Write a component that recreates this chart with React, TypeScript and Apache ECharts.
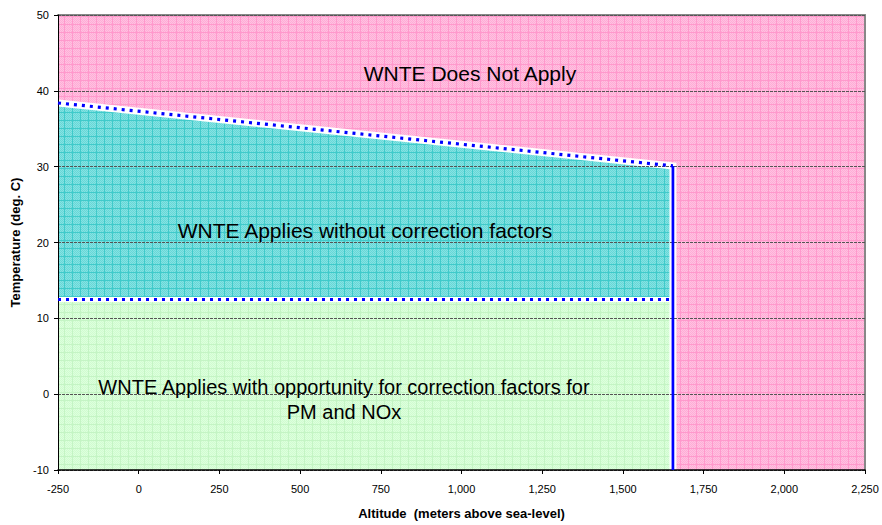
import React, { useEffect, useRef } from "react";
import * as echarts from "echarts";

// Axis ranges
const X_MIN = -250;
const X_MAX = 2250;
const X_STEP = 250;
const Y_MIN = -10;
const Y_MAX = 50;
const Y_STEP = 10;

// Region boundaries (altitude m, temperature deg C)
const boundaryAltitudes = [-250, 1655];
const upperTemps = [38.4, 30.1];
const lowerTemps = [12.5, 12.5];
const altitudeLimit = 1655;

const regionLabels = [
  "WNTE Does Not Apply",
  "WNTE Applies without correction factors",
  "WNTE Applies with opportunity for correction factors for\nPM and NOx",
];

const FONT = '"Liberation Sans", Arial, sans-serif';

function makePattern(bg: string, dot: string, line: string, size = 8) {
  const c = document.createElement("canvas");
  c.width = size;
  c.height = size;
  const ctx = c.getContext("2d")!;
  ctx.fillStyle = bg;
  ctx.fillRect(0, 0, size, size);
  ctx.fillStyle = dot;
  for (let y = 1; y < size; y++)
    for (let x = 1; x < size; x++) if ((x + y) % 2 === 0) ctx.fillRect(x, y, 1, 1);
  ctx.fillStyle = line;
  ctx.fillRect(0, 0, size, 1);
  ctx.fillRect(0, 0, 1, size);
  return { image: c, repeat: "repeat" };
}

export default function App() {
  const ref = useRef<HTMLDivElement>(null);
  useEffect(() => {
    if (!ref.current) return;
    const chart = echarts.init(ref.current, null, { renderer: "svg" });
    const pink = makePattern("#FFC2E1", "#FFACD6", "#FF99CC");
    const cyan = makePattern("#86E2E2", "#66D8D8", "#40CACA");
    const green = makePattern("#DDFFDD", "#D0FCD0", "#C4F4C4");
    const [a0, a1] = boundaryAltitudes;

    const option: any = {
      animation: false,
      backgroundColor: "#fff",
      grid: { left: 58, right: 17, top: 15, bottom: 51, containLabel: false },
      xAxis: [
        {
          type: "value",
          min: X_MIN,
          max: X_MAX,
          interval: X_STEP,
          name: "Altitude  (meters above sea-level)",
          nameLocation: "middle",
          nameGap: 37,
          nameTextStyle: { fontFamily: FONT, fontSize: 13, fontWeight: "bold", color: "#000" },
          axisLine: { show: true, onZero: false, lineStyle: { color: "#000", width: 1.5 } },
          axisTick: { show: true, length: 4, lineStyle: { color: "#000" } },
          axisLabel: {
            fontFamily: FONT,
            fontSize: 11,
            color: "#000",
            margin: 13,
            formatter: (v: number) => v.toLocaleString("en-US"),
          },
          splitLine: { show: false },
          z: 1,
        },
        {
          type: "value",
          position: "top",
          min: X_MIN,
          max: X_MAX,
          axisLine: { show: true, onZero: false, lineStyle: { color: "#888", width: 2 } },
          axisTick: { show: false },
          axisLabel: { show: false },
          splitLine: { show: false },
        },
      ],
      yAxis: [
        {
          type: "value",
          min: Y_MIN,
          max: Y_MAX,
          interval: Y_STEP,
          name: "Temperature (deg. C)",
          nameLocation: "middle",
          nameGap: 36,
          nameTextStyle: { fontFamily: FONT, fontSize: 13, fontWeight: "bold", color: "#000" },
          axisLine: { show: true, onZero: false, lineStyle: { color: "#000", width: 1 } },
          axisTick: { show: true, length: 4, lineStyle: { color: "#000" } },
          axisLabel: { fontFamily: FONT, fontSize: 11, color: "#000", margin: 9 },
          splitLine: { show: true, lineStyle: { color: "#555", width: 1, type: [3, 1] } },
          z: 1,
        },
        {
          type: "value",
          position: "right",
          min: Y_MIN,
          max: Y_MAX,
          axisLine: { show: true, onZero: false, lineStyle: { color: "#888", width: 2 } },
          axisTick: { show: false },
          axisLabel: { show: false },
          splitLine: { show: false },
        },
      ],
      series: [
        {
          type: "custom",
          coordinateSystem: "cartesian2d",
          xAxisIndex: 0,
          yAxisIndex: 0,
          z: -1,
          silent: true,
          data: [[X_MIN, Y_MIN]],
          renderItem: (_params: any, api: any) => {
            const p = (x: number, y: number) => api.coord([x, y]);
            const tl = p(X_MIN, Y_MAX);
            const br = p(X_MAX, Y_MIN);
            return {
              type: "group",
              children: [
                {
                  type: "rect",
                  shape: { x: tl[0], y: tl[1], width: br[0] - tl[0], height: br[1] - tl[1] },
                  style: { fill: pink },
                },
                {
                  type: "polygon",
                  shape: {
                    points: [p(a0, lowerTemps[0]), p(a0, upperTemps[0]), p(a1, upperTemps[1]), p(a1, lowerTemps[1])],
                  },
                  style: { fill: cyan },
                },
                {
                  type: "polygon",
                  shape: {
                    points: [p(a0, Y_MIN), p(a0, lowerTemps[0]), p(a1, lowerTemps[1]), p(a1, Y_MIN)],
                  },
                  style: { fill: green },
                },
                {
                  type: "polyline",
                  shape: { points: [p(a0, upperTemps[0]), p(a1, upperTemps[1]), p(altitudeLimit, Y_MIN)] },
                  style: { stroke: "#fff", lineWidth: 7, fill: "none" },
                },
                {
                  type: "polyline",
                  shape: { points: [p(a0, lowerTemps[0]), p(a1, lowerTemps[1])] },
                  style: { stroke: "#fff", lineWidth: 5, fill: "none" },
                },
              ],
            };
          },
        },
        {
          type: "custom",
          coordinateSystem: "cartesian2d",
          xAxisIndex: 0,
          yAxisIndex: 0,
          z: 3,
          silent: true,
          data: [[X_MIN, Y_MIN]],
          renderItem: (_params: any, api: any) => {
            const p = (x: number, y: number) => api.coord([x, y]);
            const vTop = p(altitudeLimit, upperTemps[1]);
            const vBot = p(altitudeLimit, Y_MIN);
            return {
              type: "group",
              children: [
                {
                  type: "polyline",
                  shape: { points: [p(a0, upperTemps[0]), p(a1, upperTemps[1])] },
                  style: { stroke: "#0000FF", lineWidth: 3.2, lineDash: [3, 5], fill: "none" },
                },
                {
                  type: "polyline",
                  shape: { points: [p(a0, lowerTemps[0]), p(a1, lowerTemps[1])] },
                  style: { stroke: "#0000FF", lineWidth: 3, lineDash: [3, 5], fill: "none" },
                },
                {
                  type: "line",
                  shape: { x1: vTop[0], y1: vTop[1], x2: vBot[0], y2: vBot[1] },
                  style: { stroke: "#0000FF", lineWidth: 2.7 },
                },
              ],
            };
          },
        },
      ],
      graphic: [
        {
          type: "text",
          x: 470,
          y: 73,
          z: 100,
          style: {
            text: regionLabels[0],
            font: `21px ${FONT}`,
            fill: "#000",
            align: "center",
            verticalAlign: "middle",
          },
        },
        {
          type: "text",
          x: 365,
          y: 230,
          z: 100,
          style: {
            text: regionLabels[1],
            font: `21px ${FONT}`,
            fill: "#000",
            align: "center",
            verticalAlign: "middle",
          },
        },
        {
          type: "text",
          x: 344,
          y: 399,
          z: 100,
          style: {
            text: regionLabels[2],
            font: `20px ${FONT}`,
            lineHeight: 25,
            fill: "#000",
            align: "center",
            verticalAlign: "middle",
          },
        },
      ],
    };
    chart.setOption(option);
    return () => chart.dispose();
  }, []);
  return <div ref={ref} style={{ width: 882, height: 525, position: "absolute", left: 0, top: 0 }} />;
}
